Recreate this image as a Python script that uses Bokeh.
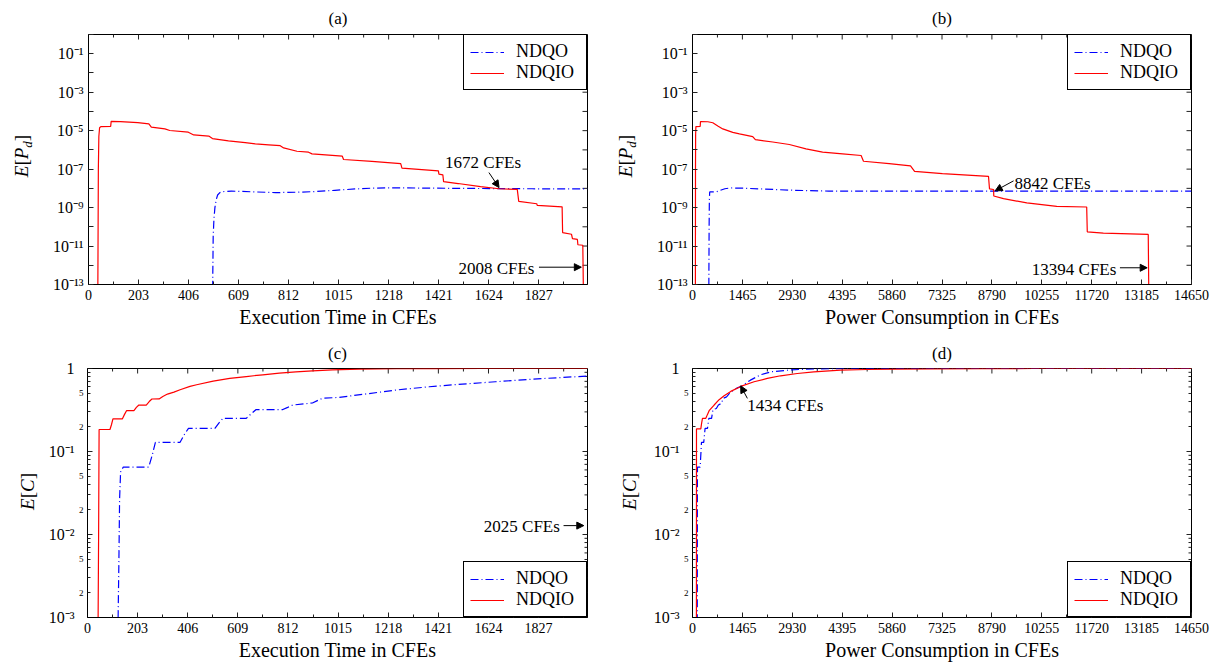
import math
from bokeh.plotting import figure
from bokeh.layouts import column, row
from bokeh.models import FixedTicker, Label, Arrow, NormalHead, Range1d, LogAxis
from bokeh.embed import file_html
from bokeh.resources import INLINE

FONT = "Liberation Serif"

# ---------------- data ----------------
# (a) E[Pd] vs execution time
a_x_ndqo = [0, 504, 506, 509, 513, 518, 524, 533, 545, 580, 680, 760, 850, 920, 1000,
            1082, 1150, 1218, 1400, 1600, 1800, 2025]
a_y_ndqo = [1e-13, 1e-13, 3.2e-11, 2.5e-10, 1e-9, 2.5e-9, 4.5e-9, 6.0e-9, 6.8e-9, 7.2e-9,
            6.5e-9, 6.0e-9, 6.3e-9, 6.8e-9, 7.9e-9, 9.3e-9, 1.02e-8, 1.07e-8, 1.02e-8,
            9.8e-9, 9.5e-9, 9.3e-9]
a_x_ndqio = [0, 38, 40, 42, 45, 50, 90, 92, 130, 200, 245, 255, 310, 330, 405, 427, 488, 503,
             568, 636, 677, 731, 778, 792, 846, 893, 907, 1030, 1035, 1150, 1267, 1272, 1420,
             1422, 1438, 1441, 1500, 1591, 1666, 1740, 1746, 1819, 1821, 1922, 1924, 1960,
             1964, 1984, 1986, 2006, 2008, 2025]
a_y_ndqio = [1e-13, 1e-13, 1e-7, 5.0e-6, 1.41e-5, 1.62e-5, 1.66e-5, 3.02e-5, 2.95e-5, 2.63e-5,
             2.24e-5, 1.51e-5, 1.23e-5, 1.02e-5, 8.3e-6, 6.0e-6, 5.25e-6, 3.89e-6, 2.95e-6,
             2.40e-6, 2.04e-6, 1.82e-6, 1.66e-6, 1.26e-6, 8.5e-7, 7.6e-7, 6.2e-7, 4.7e-7,
             3.16e-7, 2.51e-7, 1.91e-7, 1.12e-7, 8.1e-8, 5.5e-8, 5.0e-8, 2.24e-8, 1.78e-8,
             1.23e-8, 9.5e-9, 8.9e-9, 2.09e-9, 1.58e-9, 1.29e-9, 1.10e-9, 5.0e-11, 4.1e-11,
             2.45e-11, 2.2e-11, 1.17e-11, 1.1e-11, 1e-13, 1e-13]

# (b) E[Pd] vs power consumption
b_x_ndqo = [0, 480, 488, 495, 505, 700, 760, 820, 950, 1100, 1500, 2000, 3000, 4000, 6000, 14650]
b_y_ndqo = [1e-13, 1e-13, 1e-10, 2.5e-9, 6.5e-9, 6.6e-9, 7.1e-9, 7.9e-9, 9.5e-9, 1.05e-8,
            1.02e-8, 9.3e-9, 7.9e-9, 7.2e-9, 7.1e-9, 7.1e-9]
b_x_ndqio = [0, 85, 88, 92, 100, 225, 235, 450, 596, 743, 889, 1182, 1378, 1768, 1846, 2355,
             2843, 3332, 3820, 4406, 4950, 5020, 5774, 6400, 6520, 7337, 8690, 8720, 8840,
             8845, 9131, 9815, 10694, 11573, 11590, 12062, 13380, 13394, 14650]
b_y_ndqio = [1e-13, 1e-13, 1e-7, 6.3e-6, 1.62e-5, 1.66e-5, 3.0e-5, 2.9e-5, 2.57e-5, 1.74e-5,
             1.23e-5, 8.1e-6, 6.8e-6, 4.9e-6, 3.4e-6, 2.57e-6, 1.91e-6, 1.12e-6, 7.6e-7,
             6.2e-7, 5.1e-7, 2.57e-7, 1.91e-7, 1.48e-7, 7.6e-8, 5.8e-8, 4.2e-8, 9.3e-9, 8.7e-9,
             4.0e-9, 2.9e-9, 1.74e-9, 1.15e-9, 1.07e-9, 5.5e-11, 4.7e-11, 4.0e-11, 1e-13, 1e-13]

# (c) E[C] vs execution time
c_x_ndqo = [0, 124, 127, 130, 134, 145, 248, 262, 275, 375, 392, 409, 516, 532, 549, 643, 663,
            683, 791, 811, 831, 911, 931, 951, 1018, 1115, 1249, 1384, 1518, 1652, 1787, 1921, 2025]
c_y_ndqo = [0.001, 0.001, 0.0043, 0.027, 0.0565, 0.065, 0.065, 0.09, 0.129, 0.129, 0.16, 0.19,
            0.19, 0.22, 0.251, 0.251, 0.285, 0.32, 0.32, 0.34, 0.363, 0.384, 0.41, 0.437, 0.449,
            0.488, 0.55, 0.603, 0.649, 0.692, 0.738, 0.78, 0.809]
c_x_ndqio = [0, 43, 45, 47, 91, 97, 103, 141, 150, 158, 188, 198, 208, 238, 250, 261, 290, 305,
             324, 350, 375, 415, 442, 509, 576, 643, 710, 777, 844, 911, 992, 1100, 1250, 1400,
             1600, 2025]
c_y_ndqio = [0.001, 0.001, 0.01, 0.184, 0.184, 0.21, 0.247, 0.247, 0.28, 0.31, 0.31, 0.34, 0.363,
             0.363, 0.40, 0.429, 0.43, 0.46, 0.492, 0.52, 0.555, 0.608, 0.637, 0.705, 0.759,
             0.80, 0.84, 0.879, 0.912, 0.938, 0.964, 0.982, 0.993, 0.998, 1.0, 1.0]

# (d) E[C] vs power consumption
d_x_ndqo = [0, 140, 143, 146, 225, 264, 330, 370, 440, 480, 560, 600, 700, 760, 850, 900, 1000,
            1100, 1300, 1434, 1700, 2000, 2300, 2900, 3600, 4500, 14650]
d_y_ndqo = [0.001, 0.001, 0.03, 0.065, 0.065, 0.129, 0.129, 0.19, 0.19, 0.251, 0.251, 0.32,
            0.33, 0.363, 0.38, 0.437, 0.455, 0.51, 0.58, 0.61, 0.724, 0.841, 0.912, 0.964,
            0.989, 1.0, 1.0]
d_x_ndqio = [0, 115, 117, 244, 268, 293, 391, 440, 488, 635, 781, 928, 1123, 1416, 1807, 2197,
             2588, 3076, 3564, 4346, 5127, 5900, 7000, 8500, 10000, 14650]
d_y_ndqio = [0.001, 0.001, 0.187, 0.187, 0.22, 0.251, 0.251, 0.28, 0.31, 0.363, 0.421, 0.47,
             0.53, 0.608, 0.692, 0.759, 0.817, 0.871, 0.912, 0.955, 0.973, 0.983, 0.992, 0.997,
             1.0, 1.0]

# ticks
time_ticks = [0, 203, 406, 609, 812, 1015, 1218, 1421, 1624, 1827]
time_labels = ["0", "203", "406", "609", "812", "1015", "1218", "1421", "1624", "1827"]
time_minor = [101.5, 304.5, 507.5, 710.5, 913.5, 1116.5, 1319.5, 1522.5, 1725.5, 1928.5]
power_ticks = [0, 1465, 2930, 4395, 5860, 7325, 8790, 10255, 11720, 13185, 14650]
power_labels = ["0", "1465", "2930", "4395", "5860", "7325", "8790", "10255", "11720", "13185", "14650"]
power_minor = [732.5, 2197.5, 3662.5, 5127.5, 6592.5, 8057.5, 9522.5, 10987.5, 12452.5, 13917.5]

pd_ticks = [1e-13, 1e-11, 1e-9, 1e-7, 1e-5, 1e-3, 1e-1]
pd_labels = ["10⁻¹³", "10⁻¹¹", "10⁻⁹", "10⁻⁷", "10⁻⁵", "10⁻³", "10⁻¹"]
pd_minor = [1e-12, 1e-10, 1e-8, 1e-6, 1e-4, 1e-2, 1.0]

c_ticks = [1e-3, 1e-2, 1e-1, 1.0]
c_labels = ["10⁻³", "10⁻²", "10⁻¹", "1"]
c_minor = [3e-3, 4e-3, 6e-3, 7e-3, 8e-3, 9e-3,
           3e-2, 4e-2, 6e-2, 7e-2, 8e-2, 9e-2,
           0.3, 0.4, 0.6, 0.7, 0.8, 0.9]
c_small_ticks = [2e-3, 5e-3, 2e-2, 5e-2, 0.2, 0.5]
c_small_labels = ["2", "5", "2", "5", "2", "5"]

BLUE = "#0000ff"
RED = "#ff0000"
DASHDOT = "8 3 1 3"
TICKC = "#222222"


def style_axis(ax, major_len, minor_len, size="14px", standoff=5):
    ax.major_tick_in = major_len
    ax.major_tick_out = 0
    ax.minor_tick_in = minor_len
    ax.minor_tick_out = 0
    ax.axis_line_color = "black"
    ax.major_tick_line_color = TICKC
    ax.minor_tick_line_color = TICKC
    ax.major_label_text_font = FONT
    ax.major_label_text_font_size = size
    ax.major_label_text_color = "black"
    ax.major_label_standoff = standoff


def rays(p, xs, ys, length, angle):
    p.ray(x=xs, y=ys, length=length, angle=angle, length_units="screen",
          line_color=TICKC, line_width=1)


def make_panel(w, h, borders, xmax, yr, xt, xl, xm, title, title_standoff, xlabel):
    left, right, top, bottom = borders
    p = figure(width=w, height=h, x_range=Range1d(0, xmax), y_range=Range1d(*yr),
               y_axis_type="log", output_backend="svg", toolbar_location=None,
               min_border_left=left, min_border_right=right,
               min_border_top=top, min_border_bottom=bottom, title=title)
    p.grid.visible = False
    p.outline_line_color = "black"
    p.outline_line_width = 1
    p.background_fill_color = "white"
    p.border_fill_color = "white"
    p.title.align = "center"
    p.title.text_font = FONT
    p.title.text_font_size = "17px"
    p.title.text_font_style = "normal"
    p.title.text_color = "black"
    p.title.standoff = title_standoff

    xa = p.xaxis[0]
    xa.ticker = FixedTicker(ticks=xt, minor_ticks=xm)
    xa.major_label_overrides = {t: s for t, s in zip(xt, xl)}
    style_axis(xa, 5, 3)
    xa.axis_label = xlabel
    xa.axis_label_text_font = FONT
    xa.axis_label_text_font_size = "20px"
    xa.axis_label_text_font_style = "normal"
    xa.axis_label_text_color = "black"
    xa.axis_label_standoff = 3

    ymax = yr[1]
    rays(p, xt, [ymax] * len(xt), 5, -math.pi / 2)
    rays(p, xm, [ymax] * len(xm), 3, -math.pi / 2)
    return p


def pd_yaxis(p, xmax):
    ya = p.yaxis[0]
    ya.ticker = FixedTicker(ticks=pd_ticks, minor_ticks=pd_minor)
    ya.major_label_overrides = {t: s for t, s in zip(pd_ticks, pd_labels)}
    style_axis(ya, 5, 5, "16px")
    rays(p, [xmax] * len(pd_ticks), pd_ticks, 5, math.pi)
    rays(p, [xmax] * len(pd_minor), pd_minor, 5, math.pi)


def c_yaxis(p, xmax):
    # inner axis: small "2"/"5" labels and minor ticks
    ya = p.yaxis[0]
    ya.ticker = FixedTicker(ticks=c_small_ticks, minor_ticks=c_minor)
    ya.major_label_overrides = {t: s for t, s in zip(c_small_ticks, c_small_labels)}
    style_axis(ya, 3, 3, "9px", 4)
    # outer axis: decade labels
    outer = LogAxis(ticker=FixedTicker(ticks=c_ticks, minor_ticks=[]))
    outer.major_label_overrides = {t: s for t, s in zip(c_ticks, c_labels)}
    style_axis(outer, 0, 0, "16px", 1)
    outer.axis_line_color = None
    outer.major_tick_line_color = None
    outer.minor_tick_line_color = None
    p.add_layout(outer, "left")
    # decade ticks on the left and mirrored ticks on the right
    rays(p, [0] * len(c_ticks), c_ticks, 5, 0.0)
    rays(p, [xmax] * len(c_ticks), c_ticks, 5, math.pi)
    rays(p, [xmax] * len(c_small_ticks), c_small_ticks, 3, math.pi)
    rays(p, [xmax] * len(c_minor), c_minor, 3, math.pi)


def add_lines(p, xb, yb, xr, yr, loc):
    p.line(xb, yb, line_color=BLUE, line_dash=DASHDOT, line_width=1.2, legend_label="NDQO")
    p.line(xr, yr, line_color=RED, line_width=1.2, legend_label="NDQIO")
    lg = p.legend[0]
    lg.location = loc
    lg.margin = 0
    lg.padding = 6
    lg.spacing = 0
    lg.glyph_width = 34
    lg.glyph_height = 20
    lg.label_standoff = 12
    lg.label_width = 64
    lg.label_text_font = FONT
    lg.label_text_font_size = "18px"
    lg.label_text_color = "black"
    lg.border_line_color = "black"
    lg.border_line_width = 1
    lg.border_line_alpha = 1.0
    lg.background_fill_alpha = 1.0


def add_note(p, tx, ty, text, xs, ys, xe, ye):
    p.add_layout(Label(x=tx, y=ty, text=text, text_align="left", text_baseline="middle",
                       text_font=FONT, text_font_size="17px", text_color="black"))
    p.add_layout(Arrow(end=NormalHead(size=7, fill_color="black", line_color="black"),
                       x_start=xs, y_start=ys, x_end=xe, y_end=ye,
                       line_color="black", line_width=1))


# empirical vertical correction of screen-unit labels in the side figures
Y_FIX = 44


def label_fig(w, h, center_x, center_y, pieces):
    """Narrow side figure holding the rotated y-axis title (with subscript)."""
    f = figure(width=w, height=h, x_range=Range1d(0, 1), y_range=Range1d(0, 1),
               x_axis_type=None, y_axis_type=None, output_backend="svg",
               toolbar_location=None, min_border=0, outline_line_color=None)
    f.grid.visible = False
    total = sum(pc[3] for pc in pieces)
    pos = center_y - Y_FIX - total / 2.0
    for text, size, style, wdt, shift in pieces:
        f.add_layout(Label(x=center_x + shift, y=pos + wdt / 2.0, x_units="screen",
                           y_units="screen", text=text, angle=math.pi / 2,
                           text_align="center", text_baseline="middle", text_font=FONT,
                           text_font_size=f"{size}px", text_font_style=style,
                           text_color="black"))
        pos += wdt
    return f


PD_PIECES = [("E", 19, "italic", 11.6, 0), ("[", 19, "normal", 6.3, 0), ("P", 19, "italic", 11.6, 0),
             ("d", 13, "italic", 6.5, 6), ("]", 19, "normal", 6.3, 0)]
C_PIECES = [("E", 19, "italic", 11.6, 0), ("[", 19, "normal", 6.3, 0), ("C", 19, "italic", 12.7, 0),
            ("]", 19, "normal", 6.3, 0)]

LW = 40

# (a)
pa = make_panel(609 - LW, 331, (88 - LW, 22, 33, 47), 2025, (1e-13, 1.0), time_ticks,
                time_labels, time_minor, "(a)", 13, "Execution Time in CFEs")
pd_yaxis(pa, 2025)
add_lines(pa, a_x_ndqo, a_y_ndqo, a_x_ndqio, a_y_ndqio, "top_right")
add_note(pa, 1447, 10 ** -6.66, "1672 CFEs", 1625, 10 ** -7.18, 1666, 10 ** -7.96)
add_note(pa, 1501, 10 ** -12.19, "2008 CFEs", 1828, 10 ** -12.1, 2000, 10 ** -12.1)
la = label_fig(LW, 331, 21, 331 - 158.5, PD_PIECES)

# (b)
pb = make_panel(610 - LW, 331, (83 - LW, 28, 33, 47), 14650, (1e-13, 1.0), power_ticks,
                power_labels, power_minor, "(b)", 13, "Power Consumption in CFEs")
pd_yaxis(pb, 14650)
add_lines(pb, b_x_ndqo, b_y_ndqo, b_x_ndqio, b_y_ndqio, "top_right")
add_note(pb, 9452, 10 ** -7.75, "8842 CFEs", 9426, 10 ** -7.61, 8886, 10 ** -8.13)
add_note(pb, 9962, 10 ** -12.22, "13394 CFEs", 12549, 10 ** -12.13, 13349, 10 ** -12.13)
lb = label_fig(LW, 331, 16, 331 - 158.5, PD_PIECES)

# (c)
pc = make_panel(609 - LW, 332, (87 - LW, 22, 37, 45), 2025, (1e-3, 1.0), time_ticks,
                time_labels, time_minor, "(c)", 12, "Execution Time in CFEs")
c_yaxis(pc, 2025)
add_lines(pc, c_x_ndqo, c_y_ndqo, c_x_ndqio, c_y_ndqio, "bottom_right")
add_note(pc, 1605, 10 ** -1.905, "2025 CFEs", 1928, 10 ** -1.893, 2010, 10 ** -1.893)
lc = label_fig(LW, 332, 27, 332 - 162, C_PIECES)

# (d)
pd = make_panel(610 - LW, 332, (83 - LW, 28, 37, 45), 14650, (1e-3, 1.0), power_ticks,
                power_labels, power_minor, "(d)", 12, "Power Consumption in CFEs")
c_yaxis(pd, 14650)
add_lines(pd, d_x_ndqo, d_y_ndqo, d_x_ndqio, d_y_ndqio, "bottom_right")
add_note(pd, 1611, 10 ** -0.449, "1434 CFEs", 1611, 10 ** -0.36, 1415, 10 ** -0.209)
ld = label_fig(LW, 332, 20, 332 - 162, C_PIECES)

layout = column(row(la, pa, lb, pb), row(lc, pc, ld, pd))
open("out.html", "w").write(file_html(layout, INLINE))
